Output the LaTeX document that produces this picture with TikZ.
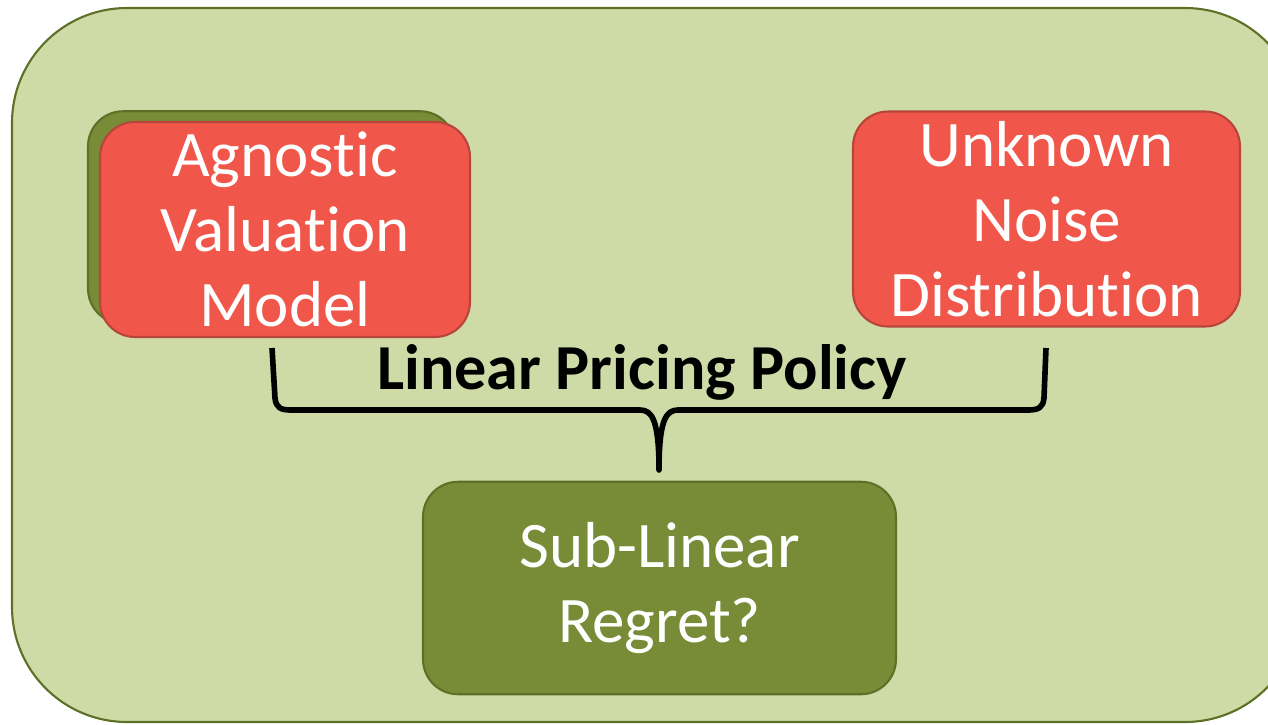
\documentclass[tikz,border=0pt]{standalone}
\usepackage{fontspec}
\setmainfont{Carlito}[Ligatures=NoCommon]
\usetikzlibrary{calc}
\definecolor{panel}{HTML}{CFDBA7}
\definecolor{olive}{HTML}{788C38}
\definecolor{oliveline}{HTML}{5D7026}
\definecolor{tomato}{HTML}{F0574A}
\definecolor{tomatoline}{HTML}{B7453A}
\tikzset{
  bigtext/.style={font=\fontsize{37}{42.5}\selectfont},
  redbox/.style={bigtext, draw=tomatoline, line width=1.2pt, fill=tomato, text=white,
    rounded corners=0.7cm, align=center, minimum height=4.3cm},
  greenbox/.style={bigtext, draw=oliveline, line width=1.2pt, fill=olive, text=white,
    rounded corners=0.7cm, align=center, minimum height=4.25cm},
  bracket/.style={line width=3.2pt, line join=round}
}
\begin{document}
\begin{tikzpicture}[x=0.02cm, y=-0.02cm]
			\useasboundingbox (0,0) rectangle (1268,724);
			\clip (0,0) rectangle (1268,724);
			% background panel
			\draw[line width=1.2pt, draw=oliveline, fill=panel, rounded corners=2.3cm] (12,8) rectangle (1300,722);
			% boxes
			\node[greenbox, minimum width=7.34cm] (shadow) at (271.5,217.5) {};
			\node[redbox, minimum width=7.4cm] (agn) at (285,229.5) {Agnostic\\Valuation\\Model};
			\node[redbox, minimum width=7.74cm] (noise) at (1046.5,219) {Unknown\\Noise\\Distribution};
			\node[greenbox, minimum width=9.46cm] (regret) at (659.5,588) {Sub-Linear\\Regret?};
			\node[bigtext, font=\fontsize{36.5}{42.5}\selectfont\bfseries, anchor=base] (policy) at (642,389) {Linear Pricing Policy};
			% brace under the policy label
			\coordinate (braceL) at (272,348);
			\coordinate (braceR) at (1046,348);
			\coordinate (tip) at (659,470);
			\draw[bracket] (braceL) -- ++(3,50) .. controls +(1,10) and +(-10,0) .. ++(16,12)
				-- ($(tip)+(-19,-60)$) .. controls +(12,0) and +(0,-50) .. (tip)
				.. controls +(0,-50) and +(-12,0) .. ++(19,-60)
				-- ($(braceR)+(-18,62)$) .. controls +(10,0) and +(-1,10) .. ++(16,-12) -- (braceR);
			\end{tikzpicture}
\end{document}
